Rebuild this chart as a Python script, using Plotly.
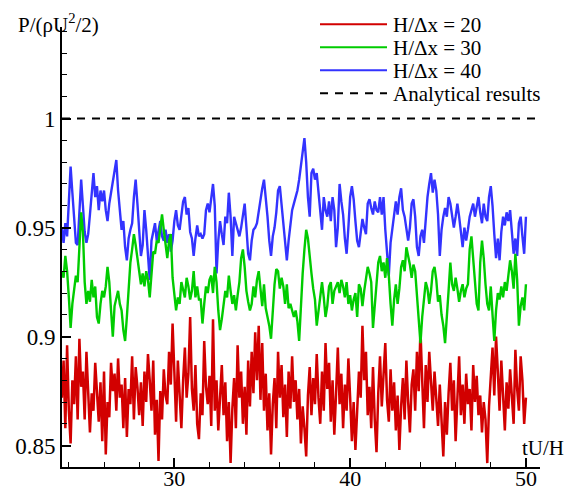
import plotly.graph_objects as go

# sampling grid of the time series (tU/H), step 0.1 from 23.6 to 50.0
T_START = 23.6
T_STEP = 0.1

RED_20 = [
    0.872, 0.889, 0.858, 0.896, 0.866, 0.851, 0.880, 0.869, 0.891, 0.862,
    0.899, 0.877, 0.884, 0.862, 0.893, 0.870, 0.856, 0.874, 0.866, 0.888,
    0.871, 0.861, 0.879, 0.852, 0.884, 0.846, 0.870, 0.863, 0.888, 0.875,
    0.883, 0.866, 0.890, 0.872, 0.878, 0.858, 0.881, 0.854, 0.876, 0.869,
    0.891, 0.862, 0.886, 0.877, 0.864, 0.879, 0.859, 0.884, 0.870, 0.892,
    0.880, 0.866, 0.889, 0.855, 0.871, 0.843, 0.875, 0.862, 0.885, 0.873,
    0.869, 0.893, 0.878, 0.906, 0.884, 0.861, 0.889, 0.870, 0.858, 0.880,
    0.895, 0.872, 0.883, 0.909, 0.876, 0.866, 0.887, 0.860, 0.853, 0.874,
    0.864, 0.898, 0.877, 0.869, 0.882, 0.859, 0.908, 0.866, 0.880, 0.857,
    0.876, 0.887, 0.864, 0.879, 0.852, 0.870, 0.842, 0.867, 0.881, 0.858,
    0.896, 0.872, 0.884, 0.860, 0.877, 0.855, 0.889, 0.868, 0.893, 0.874,
    0.902, 0.880, 0.905, 0.871, 0.897, 0.866, 0.883, 0.857, 0.874, 0.846,
    0.869, 0.881, 0.858, 0.893, 0.872, 0.887, 0.863, 0.878, 0.854, 0.884,
    0.867, 0.891, 0.870, 0.880, 0.862, 0.876, 0.851, 0.868, 0.858, 0.845,
    0.873, 0.886, 0.864, 0.881, 0.869, 0.892, 0.872, 0.860, 0.884, 0.866,
    0.897, 0.876, 0.888, 0.861, 0.880, 0.855, 0.874, 0.895, 0.869, 0.883,
    0.858, 0.878, 0.866, 0.890, 0.872, 0.852, 0.870, 0.848, 0.866, 0.884,
    0.872, 0.905, 0.880, 0.893, 0.864, 0.877, 0.858, 0.886, 0.862, 0.847,
    0.874, 0.891, 0.868, 0.882, 0.897, 0.871, 0.861, 0.885, 0.866, 0.879,
    0.857, 0.873, 0.848, 0.868, 0.881, 0.862, 0.889, 0.870, 0.856, 0.878,
    0.885, 0.866, 0.893, 0.875, 0.903, 0.880, 0.858, 0.887, 0.870, 0.893,
    0.876, 0.866, 0.884, 0.872, 0.859, 0.878, 0.864, 0.845, 0.870, 0.855,
    0.874, 0.888, 0.866, 0.880, 0.852, 0.871, 0.891, 0.864, 0.878, 0.860,
    0.883, 0.869, 0.876, 0.857, 0.887, 0.870, 0.882, 0.864, 0.873, 0.856,
    0.870, 0.862, 0.842, 0.868, 0.880, 0.895, 0.873, 0.900, 0.884, 0.866,
    0.889, 0.875, 0.857, 0.879, 0.867, 0.885, 0.872, 0.860, 0.894, 0.876,
    0.866, 0.891, 0.880, 0.860, 0.872,
]

GREEN_30 = [
    0.930, 0.927, 0.937, 0.930, 0.918, 0.904, 0.915, 0.922, 0.928, 0.925,
    0.944, 0.957, 0.948, 0.925, 0.915, 0.921, 0.916, 0.926, 0.918, 0.923,
    0.909, 0.906, 0.915, 0.921, 0.918, 0.923, 0.932, 0.925, 0.912, 0.900,
    0.914, 0.918, 0.921, 0.915, 0.912, 0.903, 0.898, 0.909, 0.921, 0.934,
    0.940, 0.947, 0.942, 0.935, 0.929, 0.924, 0.929, 0.923, 0.930, 0.926,
    0.918, 0.928, 0.939, 0.938, 0.944, 0.943, 0.949, 0.956, 0.949, 0.941,
    0.936, 0.944, 0.947, 0.927, 0.920, 0.912, 0.918, 0.915, 0.925, 0.921,
    0.918, 0.927, 0.923, 0.917, 0.921, 0.930, 0.918, 0.923, 0.917, 0.917,
    0.906, 0.915, 0.923, 0.920, 0.926, 0.928, 0.920, 0.932, 0.925, 0.912,
    0.903, 0.908, 0.915, 0.921, 0.918, 0.928, 0.921, 0.915, 0.919, 0.912,
    0.919, 0.925, 0.936, 0.940, 0.932, 0.921, 0.916, 0.912, 0.915, 0.923,
    0.918, 0.926, 0.930, 0.920, 0.914, 0.924, 0.913, 0.909, 0.905, 0.899,
    0.913, 0.924, 0.931, 0.930, 0.922, 0.927, 0.923, 0.915, 0.924, 0.913,
    0.915, 0.912, 0.909, 0.912, 0.907, 0.898, 0.915, 0.929, 0.940, 0.949,
    0.945, 0.936, 0.929, 0.922, 0.917, 0.905, 0.912, 0.918, 0.925, 0.918,
    0.909, 0.914, 0.923, 0.925, 0.915, 0.921, 0.923, 0.925, 0.920, 0.926,
    0.923, 0.918, 0.925, 0.915, 0.919, 0.912, 0.917, 0.920, 0.909, 0.924,
    0.922, 0.914, 0.921, 0.928, 0.932, 0.929, 0.925, 0.904, 0.915, 0.922,
    0.934, 0.937, 0.930, 0.934, 0.927, 0.936, 0.928, 0.915, 0.905, 0.917,
    0.924, 0.915, 0.922, 0.932, 0.935, 0.930, 0.941, 0.937, 0.933, 0.927,
    0.933, 0.930, 0.918, 0.906, 0.897, 0.909, 0.918, 0.925, 0.922, 0.915,
    0.921, 0.930, 0.932, 0.926, 0.916, 0.919, 0.910, 0.905, 0.897, 0.907,
    0.921, 0.934, 0.924, 0.921, 0.927, 0.922, 0.916, 0.921, 0.924, 0.918,
    0.922, 0.924, 0.940, 0.946, 0.936, 0.924, 0.915, 0.912, 0.934, 0.944,
    0.936, 0.924, 0.915, 0.912, 0.923, 0.910, 0.898, 0.912, 0.920, 0.917,
    0.923, 0.918, 0.925, 0.921, 0.928, 0.935, 0.930, 0.922, 0.938, 0.926,
    0.905, 0.914, 0.918, 0.912, 0.924,
]

BLUE_40 = [
    0.950, 0.943, 0.952, 0.946, 0.962, 0.978, 0.966, 0.956, 0.943, 0.942,
    0.958, 0.972, 0.960, 0.948, 0.943, 0.947, 0.956, 0.967, 0.975, 0.964,
    0.969, 0.958, 0.967, 0.962, 0.967, 0.958, 0.953, 0.961, 0.966, 0.970,
    0.975, 0.981, 0.967, 0.958, 0.949, 0.953, 0.941, 0.935, 0.945, 0.949,
    0.952, 0.964, 0.972, 0.961, 0.951, 0.937, 0.942, 0.958, 0.949, 0.937,
    0.926, 0.944, 0.949, 0.952, 0.944, 0.949, 0.953, 0.946, 0.944, 0.949,
    0.943, 0.947, 0.939, 0.944, 0.953, 0.958, 0.951, 0.949, 0.957, 0.962,
    0.964, 0.956, 0.959, 0.948, 0.945, 0.937, 0.945, 0.951, 0.946, 0.947,
    0.945, 0.947, 0.958, 0.961, 0.957, 0.964, 0.970, 0.960, 0.929, 0.944,
    0.953, 0.947, 0.942, 0.955, 0.952, 0.966, 0.955, 0.937, 0.955, 0.952,
    0.949, 0.946, 0.950, 0.955, 0.961, 0.950, 0.938, 0.935, 0.944, 0.949,
    0.950, 0.952, 0.958, 0.962, 0.968, 0.972, 0.964, 0.955, 0.944, 0.937,
    0.946, 0.950, 0.957, 0.967, 0.969, 0.961, 0.952, 0.944, 0.935, 0.944,
    0.952, 0.958, 0.961, 0.964, 0.967, 0.972, 0.979, 0.987, 0.991, 0.980,
    0.964, 0.955, 0.975, 0.977, 0.972, 0.975, 0.967, 0.956, 0.949, 0.964,
    0.958, 0.955, 0.962, 0.953, 0.964, 0.958, 0.941, 0.950, 0.970, 0.962,
    0.956, 0.945, 0.938, 0.950, 0.964, 0.969, 0.963, 0.953, 0.944, 0.941,
    0.948, 0.954, 0.950, 0.947, 0.961, 0.963, 0.959, 0.956, 0.962, 0.958,
    0.957, 0.964, 0.956, 0.964, 0.949, 0.938, 0.928, 0.943, 0.949, 0.955,
    0.962, 0.956, 0.964, 0.968, 0.958, 0.955, 0.949, 0.944, 0.950, 0.961,
    0.963, 0.955, 0.941, 0.937, 0.946, 0.949, 0.943, 0.955, 0.964, 0.970,
    0.975, 0.966, 0.972, 0.967, 0.956, 0.937, 0.949, 0.955, 0.959, 0.955,
    0.964, 0.961, 0.956, 0.950, 0.955, 0.961, 0.955, 0.947, 0.941, 0.950,
    0.944, 0.949, 0.955, 0.958, 0.961, 0.955, 0.960, 0.964, 0.957, 0.952,
    0.961, 0.955, 0.953, 0.964, 0.969, 0.960, 0.947, 0.936, 0.945, 0.935,
    0.948, 0.955, 0.951, 0.957, 0.953, 0.958, 0.948, 0.938, 0.945, 0.937,
    0.952, 0.955, 0.946, 0.938, 0.955,
]

ANALYTICAL = 1.0
SERIES_NAMES = ["H/\u0394x = 20", "H/\u0394x = 30", "H/\u0394x = 40", "Analytical results"]
X_TICKS = [30, 40, 50]
Y_TICKS = [0.85, 0.9, 0.95, 1]
Y_TICKTEXT = ["0.85", "0.9", "0.95", "1"]
X_RANGE = [23.61, 50.8]
Y_RANGE = [0.8402, 1.042]

T = [round(T_START + T_STEP * i, 2) for i in range(len(RED_20))]

W, H = 565, 493
PLOT_L, PLOT_R, PLOT_T, PLOT_B = 62, 540, 27, 467   # pixels of the plot area
ML, MR, MT, MB = PLOT_L, W - PLOT_R, PLOT_T, H - PLOT_B
PW, PH = PLOT_R - PLOT_L, PLOT_B - PLOT_T


def px(x):
    return (x - PLOT_L) / PW


def py(y):
    return (PLOT_B - y) / PH


FONT = "Liberation Serif"
RED, GREEN, BLUE = "#d20000", "#00cc00", "#3333ff"

fig = go.Figure()
fig.add_trace(go.Scatter(x=T, y=RED_20, mode="lines", line=dict(color=RED, width=2.5), showlegend=False))
fig.add_trace(go.Scatter(x=T, y=BLUE_40, mode="lines", line=dict(color=BLUE, width=2.4), showlegend=False))
fig.add_trace(go.Scatter(x=T, y=GREEN_30, mode="lines", line=dict(color=GREEN, width=2.4), showlegend=False))
fig.add_trace(go.Scatter(x=X_RANGE, y=[ANALYTICAL, ANALYTICAL], mode="lines",
                         line=dict(color="black", width=2, dash="8px,7px"), showlegend=False))

# manual legend
legend_colors = [RED, GREEN, BLUE, "black"]
legend_rows = [24.3, 47.3, 70.3, 93.3]
for name, col, yy in zip(SERIES_NAMES, legend_colors, legend_rows):
    fig.add_shape(type="line", xref="paper", yref="paper", x0=px(320), x1=px(387), y0=py(yy), y1=py(yy),
                  line=dict(color=col, width=2, dash="8px,7px" if col == "black" else "solid"))
    fig.add_annotation(xref="paper", yref="paper", x=px(391), y=py(yy + 1), text=name, showarrow=False,
                       xanchor="left", yanchor="middle", font=dict(family=FONT, size=21, color="black"))

fig.add_annotation(xref="paper", yref="paper", x=px(16), y=py(23), text="P/(\u03c1U<sup>2</sup>/2)",
                   showarrow=False, xanchor="left", yanchor="middle",
                   font=dict(family=FONT, size=21, color="black"))
fig.add_annotation(xref="paper", yref="paper", x=px(520), y=py(448), text="tU/H",
                   showarrow=False, xanchor="left", yanchor="middle",
                   font=dict(family=FONT, size=21, color="black"))

fig.update_layout(
    width=W, height=H,
    margin=dict(l=ML, r=MR, t=MT, b=MB, autoexpand=False),
    paper_bgcolor="white", plot_bgcolor="white",
    showlegend=False,
    font=dict(family=FONT, color="black", size=21),
)
fig.update_xaxes(
    range=X_RANGE, tickvals=X_TICKS, showgrid=False, zeroline=False,
    showline=True, linecolor="black", linewidth=2, mirror=False,
    ticks="inside", ticklen=9, tickwidth=2, tickcolor="black", ticklabelstandoff=-9,
    tickfont=dict(family=FONT, size=22, color="black"),
    minor=dict(dtick=2, tick0=0, ticks="inside", ticklen=5, tickwidth=1, tickcolor="black", showgrid=False),
)
fig.update_yaxes(
    range=Y_RANGE, tickvals=Y_TICKS, ticktext=Y_TICKTEXT, showgrid=False, zeroline=False,
    showline=True, linecolor="black", linewidth=2, mirror=False,
    ticks="inside", ticklen=9, tickwidth=2, tickcolor="black",
    tickfont=dict(family=FONT, size=23, color="black"),
    minor=dict(dtick=0.01, tick0=0, ticks="inside", ticklen=5, tickwidth=1, tickcolor="black", showgrid=False),
)

# remove the default page margin so the figure sits at the window's top-left corner
fig.write_html("out.html", config={"displayModeBar": False},
               post_script="document.body.style.margin='0';document.body.style.overflow='hidden';")
